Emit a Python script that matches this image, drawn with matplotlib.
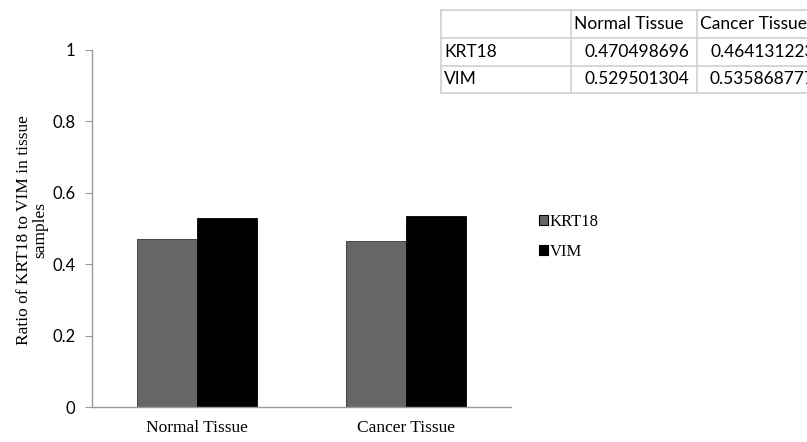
import matplotlib
matplotlib.use("Agg")
import matplotlib.pyplot as plt
import numpy as np
from matplotlib.lines import Line2D

categories = ["Normal Tissue", "Cancer Tissue"]
series_names = ["KRT18", "VIM"]
krt18 = [0.470498696, 0.464131223]
vim = [0.529501304, 0.535868777]
yticks = [0, 0.2, 0.4, 0.6, 0.8, 1]
ytick_labels = ["0", "0.2", "0.4", "0.6", "0.8", "1"]
table_header = ["", "Normal Tissue", "Cancer Tissue"]
table_rows = [["KRT18", "0.470498696", "0.464131223"],
              ["VIM", "0.529501304", "0.535868777"]]

W, H = 807, 442
fig = plt.figure(figsize=(W / 100, H / 100), dpi=100)
ax = fig.add_axes([92 / W, 1 - 407 / H, (511 - 92) / W, (407 - 50) / H])

serif = "Liberation Serif"
sans = "Lato"
x = np.arange(len(categories))
bw = 0.287
ax.bar(x - bw / 2, krt18, bw, color="#666666", edgecolor="#333333", linewidth=0.6, label=series_names[0])
ax.bar(x + bw / 2, vim, bw, color="#000000", edgecolor="#000000", linewidth=0.6, label=series_names[1])

ax.set_xlim(-0.5, 1.5)
ax.set_ylim(0, 1)
ax.set_yticks(yticks)
ax.set_yticklabels(ytick_labels, fontfamily=sans, fontsize=12)
ax.set_xticks(x)
ax.set_xticklabels(categories, fontfamily=serif, fontsize=12.5)
ax.tick_params(axis="x", length=0, pad=9)
ax.tick_params(axis="y", length=5, color="#9a9a9a", pad=7, direction="out")
for s in ["top", "right"]:
    ax.spines[s].set_visible(False)
for s in ["left", "bottom"]:
    ax.spines[s].set_color("#9a9a9a")
    ax.spines[s].set_linewidth(1)

fig.text(32 / W, 1 - 230 / H, "Ratio of KRT18 to VIM in tissue\nsamples", rotation=90,
         ha="center", va="center", fontfamily=serif, fontsize=12.5, linespacing=1.0,
         multialignment="center")

# legend
handles = [plt.Rectangle((0, 0), 1, 1, facecolor="#666666", edgecolor="#000000", linewidth=0.8),
           plt.Rectangle((0, 0), 1, 1, facecolor="#000000", edgecolor="#000000", linewidth=0.8)]
leg = fig.legend(handles, series_names, loc="center left", bbox_to_anchor=(524 / W, 1 - 237 / H),
                 frameon=False, prop={"family": serif, "size": 12}, handlelength=0.55,
                 handleheight=0.55, handletextpad=0.1, labelspacing=0.85)

# table
col_x = [441, 571, 697, 823]
row_y = [10, 38, 66, 93]
gc = "#d0d0d0"
for yy in row_y:
    fig.add_artist(Line2D([col_x[0] / W, col_x[-1] / W], [1 - yy / H, 1 - yy / H], color=gc, lw=1.2))
for xx in col_x:
    fig.add_artist(Line2D([xx / W, xx / W], [1 - row_y[0] / H, 1 - row_y[-1] / H], color=gc, lw=1.2))
rows = [table_header] + table_rows
for r, row in enumerate(rows):
    yc = 1 - (row_y[r] + row_y[r + 1]) / 2 / H
    for c, val in enumerate(row):
        if not val:
            continue
        if r == 0 or c == 0:
            fig.text((col_x[c] + 3) / W, yc, val, ha="left", va="center", fontfamily=sans, fontsize=12.5)
        else:
            fig.text((col_x[c + 1] - 8) / W, yc, val, ha="right", va="center", fontfamily=sans, fontsize=12.5)

fig.savefig("out.png", dpi=100)
